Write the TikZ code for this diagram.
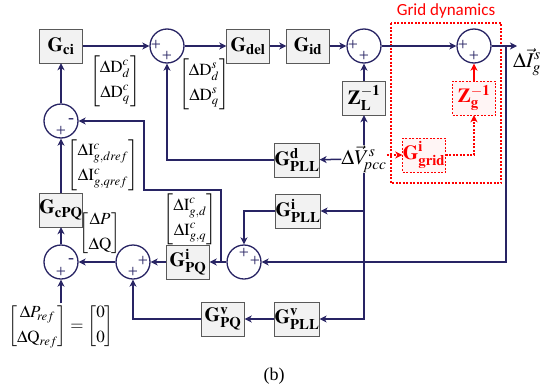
\documentclass[tikz,border=0pt]{standalone}
\usepackage{amsmath}
\usepackage{mathptmx}
\usepackage{fontspec}
\setmainfont{Liberation Serif}
\newfontfamily\labelfont{Carlito}
\usetikzlibrary{arrows.meta}
\definecolor{flow}{RGB}{40,36,100}
\tikzset{
  blk/.style={draw=gray!70!black, fill=gray!10, minimum width=43pt, minimum height=34pt,
    inner sep=0pt, font=\fontsize{20}{22}\selectfont},
  blkred/.style={blk, draw=red, fill=red!4, dash pattern=on 2pt off 1.5pt, text=red},
  sumnode/.style={circle, draw=flow, fill=white, line width=1.3pt, minimum size=34pt, inner sep=0pt},
  sig/.style={font=\fontsize{18}{18}\selectfont, text=flow, inner sep=0pt},
  vec/.style={font=\fontsize{17}{20}\selectfont, inner sep=0pt},
  link/.style={flow, line width=1.5pt, -{Stealth[length=7pt,width=7pt,inset=2pt]}},
  redlink/.style={red, line width=1.5pt, -{Stealth[length=7pt,width=7pt,inset=2pt]}}
}
\begin{document}
\begin{tikzpicture}[x=1pt,y=-1pt]
  \useasboundingbox (0,0) rectangle (548,391);
  % blocks
  \node[blk] (gci) at (61,46) {$\mathbf{G}_{\mathbf{ci}}$};
  \node[blk] (gdel) at (248,46) {$\mathbf{G}_{\mathbf{del}}$};
  \node[blk] (gid) at (308,46) {$\mathbf{G}_{\mathbf{id}}$};
  \node[blk] (zl) at (364,98) {$\mathbf{Z}^{\mathbf{-1}}_{\mathbf{L}}$};
  \node[blk] (gpd) at (297,160) {$\mathbf{G}^{\mathbf{d}}_{\mathbf{PLL}}$};
  \node[blk] (gpi) at (298,211) {$\mathbf{G}^{\mathbf{i}}_{\mathbf{PLL}}$};
  \node[blk] (gpv) at (297,319) {$\mathbf{G}^{\mathbf{v}}_{\mathbf{PLL}}$};
  \node[blk] (gpqv) at (223,319) {$\mathbf{G}^{\mathbf{v}}_{\mathbf{PQ}}$};
  \node[blk] (gpqi) at (188,262) {$\mathbf{G}^{\mathbf{i}}_{\mathbf{PQ}}$};
  \node[blk] (gcpq) at (61,210) {$\mathbf{G}_{\mathbf{cPQ}}$};
  \node[blkred] (zg) at (474,98) {$\mathbf{Z}^{\mathbf{-1}}_{\mathbf{g}}$};
  \node[blkred] (ggrid) at (424,155) {$\mathbf{G}^{\mathbf{i}}_{\mathbf{grid}}$};
  % summing junctions
  \node[sumnode] (s1) at (167,46) {};
  \node[sumnode] (s2) at (364,46) {};
  \node[sumnode] (s3) at (474,46) {};
  \node[sumnode] (s4) at (244,262) {};
  \node[sumnode] (s5) at (133,262) {};
  \node[sumnode] (s6) at (61,262) {};
  \node[sumnode] (s7) at (61,121) {};
  \foreach \s/\dx/\dy/\t [count=\i] in {s1/-11/-1/+, s1/0/10/+, s2/-11/-1/+, s2/0/10/+,
      s3/-11/-1/+, s3/0/10/+, s4/0/-9/+, s4/11/-1/+, s5/10/-1/+, s5/0/10/+,
      s6/10/-1/-, s6/0/10/+, s7/10/0/-, s7/0/10/+}
    \node[sig] (sg\i) at ([shift={(\dx,\dy)}]\s.center) {\t};
  % signals
  \node[font=\fontsize{21}{23}\selectfont, inner sep=0pt] (vpcc) at (364,159) {$\Delta\vec{V}^{s}_{\!pcc}$};
  \node[font=\fontsize{21}{23}\selectfont, inner sep=0pt] (iout) at (527,62) {$\Delta\vec{I}^{s}_{g}$};
  \node[vec] (dc) at (115,81) {$\begin{bmatrix}\Delta\mathrm{D}^{c}_{d}\\[5pt]\Delta\mathrm{D}^{c}_{q}\end{bmatrix}$};
  \node[vec] (ds) at (204,84) {$\begin{bmatrix}\Delta\mathrm{D}^{s}_{d}\\[5pt]\Delta\mathrm{D}^{s}_{q}\end{bmatrix}$};
  \node[vec] (irf) at (103,165) {$\begin{bmatrix}\Delta\mathrm{I}^{c}_{g,dref}\\[5pt]\Delta\mathrm{I}^{c}_{g,qref}\end{bmatrix}$};
  \node[vec] (igc) at (190,219) {$\begin{bmatrix}\Delta\mathrm{I}^{c}_{g,d}\\[5pt]\Delta\mathrm{I}^{c}_{g,q}\end{bmatrix}$};
  \node[vec] (pq) at (100,233) {$\begin{bmatrix}\Delta P\\[5pt]\Delta\mathrm{Q}\end{bmatrix}$};
  \node[vec] (pref) at (61,326) {$\begin{bmatrix}\Delta P_{\!ref}\\[5pt]\Delta\mathrm{Q}_{ref}\end{bmatrix}=\begin{bmatrix}0\\[5pt]0\end{bmatrix}$};
  \node[font=\fontsize{18}{20}\selectfont] (cap) at (274,376) {(b)};
  % grid dynamics
  \draw[red, line width=1.3pt, dash pattern=on 2pt off 1.5pt] (391,23) rectangle (501,183);
  \node[red, font=\labelfont\fontsize{17}{19}\selectfont] (gdyn) at (446,11) {Grid dynamics};
  % connectors
  \coordinate (oi) at (517,46);
  \coordinate (fb) at (506,46);
  \coordinate (j1) at (221,262);
  \coordinate (k1) at (144,190);
  \draw[link] (gci) -- (s1);
  \draw[link] (s1) -- (gdel);
  \draw[link] (gdel) -- (gid);
  \draw[link] (gid) -- (s2);
  \draw[link] (s2) -- (s3);
  \draw[link] (s3) -- (oi);
  \draw[link] (zl) -- (s2);
  \draw[link] (vpcc) -- (zl);
  \draw[link] (vpcc) -- (gpd);
  \draw[link] (gpd) -| (s1);
  \draw[link] (vpcc.south) |- (gpi);
  \draw[link] (vpcc.south) |- (gpv);
  \draw[link] (gpi) -| (s4);
  \draw[link] (fb) |- (s4);
  \draw[link] (s4) -- (gpqi);
  \draw[link] (j1) |- (k1) |- (s7);
  \draw[link] (gpqi) -- (s5);
  \draw[link] (s5) -- (s6);
  \draw[link] (s6) -- (gcpq);
  \draw[link] (gcpq) -- (s7);
  \draw[link] (s7) -- (gci);
  \draw[link] (gpv) -- (gpqv);
  \draw[link] (gpqv) -| (s5);
  \draw[link] (pref) -- (s6);
  \draw[redlink, dash pattern=on 2pt off 1.5pt] (vpcc.east |- ggrid) -- (ggrid);
  \draw[redlink, dash pattern=on 2pt off 1.5pt] (ggrid) -| (zg);
  \draw[redlink] (zg) -- (s3);
\end{tikzpicture}
\end{document}
